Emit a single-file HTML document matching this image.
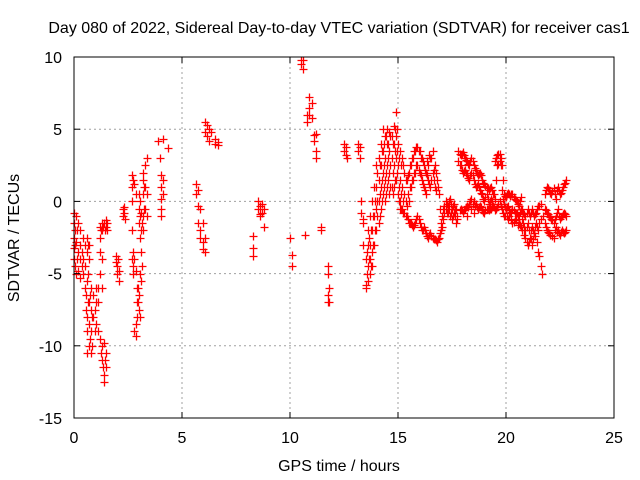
<!DOCTYPE html>
<html><head><meta charset="utf-8"><style>
body{margin:0;background:#fff}
svg{display:block;font-family:"Liberation Sans",sans-serif}
</style></head><body>
<svg id="chart" width="640" height="480">
<rect width="640" height="480" fill="#fff"/>
<text x="339" y="33" font-size="16" text-anchor="middle">Day 080 of 2022, Sidereal Day-to-day VTEC variation (SDTVAR) for receiver cas1</text>
<g id="grid"></g>
<g id="pts"></g>
<rect x="74" y="57" width="540" height="361" fill="none" stroke="#000"/>
<g id="ticks"></g>
<text x="339" y="471" font-size="16" text-anchor="middle">GPS time / hours</text>
<text transform="translate(19,238) rotate(-90)" font-size="16" text-anchor="middle">SDTVAR / TECUs</text>
</svg>
<script>
const xTicks=[0,5,10,15,20,25];
const yTicks=[10,5,0,-5,-10,-15];
const hours=[0,0.05,0.1,0.2,0.3,0.4,0.5,0.6,0.7,
0.55,0.6,0.7,0.8,0.9,1.0,1.1,
1.2,1.3,1.4,1.5,1.55,
1.95,2.0,2.05,2.1,2.25,2.3,2.35,
2.7,2.75,2.85,2.9,3.0,3.05,3.1,3.2,3.3,3.4,
3.9,4.1,4.0,4.05,4.1,4.35,
5.65,5.75,5.85,5.95,6.05,6.05,6.15,6.25,6.35,6.55,6.65,
8.3,8.5,8.6,8.7,8.8,
10.0,10.1,10.5,10.6,10.7,10.8,10.9,11.0,11.1,11.2,11.45,11.75,11.8,
12.5,12.6,12.65,13.15,13.25,13.3,13.4,13.5,13.6,13.7,13.8,13.9,14.0,14.1,14.2,14.3,14.4,14.5,14.6,14.7,14.8,14.9,
15.0,15.1,15.2,15.3,15.4,15.5,15.6,15.7,15.8,15.9,16.0,16.1,16.2,16.3,16.4,16.5,16.6,16.7,16.8,16.9,
17.0,17.1,17.2,17.3,17.4,17.5,17.6,17.7,17.8,17.9,18.0,18.1,18.2,18.3,18.4,18.5,18.6,18.7,18.8,18.9,
19.0,19.1,19.2,19.3,19.4,19.5,19.6,19.7,19.8,19.9,20.0,20.1,20.2,20.3,20.4,20.5,20.6,20.7,20.8,20.9,
21.0,21.1,21.2,21.3,21.4,21.5,21.6,21.65,21.7,21.8,21.9,22.0,22.1,22.2,22.3,22.4,22.5,22.6,22.7,22.8];
const values=[[-0.8,-1.5,-2.5,-3.2,-4],[-2,-3,-4.5],[-1,-2.8,-5],[-1.5,-3.5,-4.8],[-2,-3,-4,-5.3],[-2.5,-4,-5],[-3,-4.5,-6],[-2.5,-3.5,-5.5],[-3,-4],
[-6.5,-7.5],[-8,-9,-10.5],[-7,-8.5,-10],[-6,-7.5,-9,-10.5],[-6.5,-8],[-7,-8.5,-6],[-6,-7,-9],
[-1.8,-2.5,-3.5,-5,-9.5],[-1.5,-2,-4,-6,-10,-11],[-1.5,-9.8,-12,-12.5],[-1.3,-1.8,-10.5,-11.5],[-1.5,-2],
[-3.8,-4.2],[-4.5,-5],[-4],[-4.8,-5.5],[-0.5,-1],[-0.8,-0.4],[-1.2],
[1.8,1,0,-2,-4],[1.5,-3.5,-4.5,-5],[0.5,-4.8,-8.5,-9.3],[-6,-7,-8],[0.5,-0.5,-1.5,-6.5,-7.5],[0,-1,-2.5,-5,-8],[-0.8,-2,-3.5,-5.5],[2,1.5,0.5,-1,-2],[2.5,1,-0.5],[3,0.5,-1],
[4.2],[4.3],[3],[1.8,1,0.2,-0.5,-1],[1.5,0.5],[3.7],
[1.2,0.5],[0.8,-0.3,-1.5],[-0.5,-2,-2.5],[-1.5,-2.8,-3.3],[-2.5,-3.5],[5.5,4.8],[5.3,4.5],[5,4.2],[4.8],[4.3,4],[4.1,3.9],
[-2.4,-3.2,-3.8],[0,-0.5],[-0.3,-0.9,-1],[-0.2,-0.8],[-0.5,-1.8],
[-2.5],[-3.7,-4.5],[9.8,9.5],[9.8,9.2],[-2.3],[6,5.5],[7.2,6.5,6],[6.8,5.8],[4.6,4.2],[4.7,3.5,3],[-1.8,-2],[-4.5,-5,-6.5,-7],[-6,-7],
[4,3.5],[3.8,3.2],[3],[4,3.5],[3.8,3],[0,-0.8],[-1.2,-1.5,-3],[-4,-5.8,-6],[-3,-5.5,-4.5,-2],[-1,-3,-4,-5],[0,-2,-3.5,-4.5],[1,-1,-3],[2.5,1,-0.5,-2],[3,1.5,0,-1.5],[4,2.5,1,-0.5],[5,3.5,2,0.5],[4.5,3,1.5,0],[5,4,2.5,1],[4.8,3.5,2,0.5],[4.5,3,1],[5.2,4,2.5,1],[6.2,4.5,3,1.5],
[4,2.5,0.5],[3.5,1.5,0,-0.5],[3,1,-0.5],[2,0.5,-0.8],[1.5,-0.3,-1],[2,0,-1.5],[2.5,1,-1.5],[3,1.5,-1.8],[3.5,2,-1.5],[3.8,2.5,-1],[3.5,2,-1.5],[3,1.5,-2],[2.5,1,-1.8],[2,0.5,-2.2],[1.5,2.5,-2.5],[1,3,-2.2],[2,3.5,-2.5],[2.5,1,-2.6],[1.5,-2.8],[0.5,-2.5],
[-1.5,-2],[-0.5,-1.2],[-0.5,0],[-0.8,-0.3],[-1,0.2],[-0.5,-1.2],[-0.2,-0.8],[-0.5,-1.5],[3.5,2.8],[3.2,2.5,-0.5],[3.4,2,-0.8],[3,2.2,-0.5],[2.8,1.8,-0.3,-1],[2.5,1.5,-0.2],[3,2,0.2,-0.5],[2.5,1.5,0,-0.8],[2.2,1,-0.2],[1.8,1.2,-0.5],[2,0.8,-0.3],[1.5,0.5,-0.6],
[1.2,0,-0.8],[1,0.5,-0.5],[0.8,-0.2,-0.6],[1,0.2,-0.5],[0.5,-0.3],[2.8,0.2,-0.6],[3.2,2.5,-0.4],[3.3,2.8,0],[2.5,0.8,-0.5],[0.5,-0.2,-1],[0.3,-0.5],[0.6,-0.3,-1.2],[0.4,-0.8],[0.5,-0.5,-1.5],[0.2,-0.8,-1.2],[0,-0.8],[-0.3,-1,-1.5],[0.3,-0.5,-1.8],[-0.8,-1.5],[-1,-2,-2.5],
[-0.5,-1.5,-3],[-1,-2.5],[-0.5,-1.8,-3],[-1,-2.2],[-0.8,-1.5],[-0.3,-2,-3.5],[-0.2,-1.2,-4.5],[-5],[-1],[0.5,-0.5,-1.5],[1,-0.8,-2],[0.8,-1,-2.2],[0.5,-1.2],[0.9,-1.5,-2.5],[0.2,-1,-1.8],[1,-0.5,-2],[0.5,-1.2,-2.3],[0.8,-1,-2],[1.2,-0.8,-2.2],[1.5,-1,-2]];
// additional readings filling the dense bands
const hours2=[0.15,0.35,0.65,0.75,0.85,0.95,1.25,1.35,1.45,2.8,2.95,3.15,3.25,13.55,13.65,13.75,13.85,13.95,14.05,14.15,14.25,14.35,14.45,14.55,14.65,14.75,14.85,14.95,
15.05,15.15,15.25,15.35,15.45,15.55,15.65,15.75,15.85,15.95,16.05,16.15,16.25,16.35,16.45,16.55,16.65,16.75,16.85,16.95,
17.05,17.15,17.25,17.35,17.45,17.55,17.65,17.75,17.85,17.95,18.05,18.15,18.25,18.35,18.45,18.55,18.65,18.75,18.85,18.95,
19.05,19.15,19.25,19.35,19.45,19.55,19.65,19.75,19.85,19.95,20.05,20.15,20.25,20.35,20.45,20.55,20.65,20.75,20.85,20.95,
21.05,21.15,21.25,21.35,21.45,21.55,21.85,21.95,22.05,22.15,22.25,22.35,22.45,22.55,22.65,22.75];
const values2=[[-2,-4],[-3.5,-4.5],[-3,-5,-7],[-6.5,-9.5],[-8,-10],[-7.5,-9],[-2,-10.5],[-1.8,-11.5],[-2,-11],[1.2,-4,-9],[-6,-7],[-1.5,-4.5],[1,-0.5],
[-5,-3.5],[-4,-2.5],[-2,-4.5],[-1,-3],[0,-2],[2,0,-1],[2.5,0.5,-1],[3.5,1.5,0],[4,2.5,1],[4.5,2,0.5],[4,3,1.5],[4.5,2.5,1],[4,2,0.5],[5,3.5,1.5],[5,3.5,2],
[3,1,0],[2.5,0.5,-0.5],[2.5,0,-0.8],[1.5,0,-1],[1.8,0.5,-1.2],[2.5,1,-1.5],[3,1.5,-1.6],[3.5,2,-1.6],[3.8,2.5,-1.2],[3.5,2.2,-1.2],[3,1.8,-1.8],[2.8,1.2,-2],[2.2,0.8,-2],[1.8,2.8,-2.4],[1.2,3.2,-2.3],[1.5,3,-2.4],[2.2,1.5,-2.6],[2,0.8,-2.7],[1,-2.6],[-0.5,-2.2],
[-1,-1.8],[-0.3,-0.8],[-0.8,-0.2],[-0.5,0],[-0.8,-0.2],[-0.3,-1],[-0.5,-1],[-1,-1.2],[3.3,2.5,-0.6],[3.3,2.2,-0.6],[3.2,2.1,-0.6],[2.9,2,-0.4],[2.6,1.6,-0.4],[2.8,1.8,0],[2.8,1.8,-0.2],[2.3,1.2,-0.3],[2,1.1,-0.4],[1.9,1,-0.4],[1.8,0.6,-0.4],[1.3,0.2,-0.7],
[1.1,0.3,-0.6],[0.9,0.2,-0.5],[0.9,0,-0.5],[0.8,0,-0.4],[0.5,-0.4],[3,1.5,-0.5],[3.3,2.6,-0.2],[3,2.5,-0.3],[1.5,0.2,-0.8],[0.4,-0.4,-1],[0.5,-0.4,-1],[0.5,-0.6,-1],[0.5,-0.7,-1.3],[0.3,-0.6,-1.4],[0.1,-0.8,-1.3],[-0.2,-1,-1.6],[0,-0.7,-1.6],[-0.5,-1.2,-2],[-0.9,-1.8,-2.3],[-0.8,-1.8,-2.8],
[-0.8,-2,-2.8],[-0.8,-2,-2.6],[-0.8,-2,-2.6],[-0.9,-1.8,-2.4],[-0.5,-1.8,-2.8],[-0.3,-1.5,-3.8],[0.8,-0.6,-1.8],[0.9,-0.9,-2.1],[0.6,-1.1,-2.3],[0.7,-1.3,-2.4],[0.5,-1.2,-2],[0.8,-0.8,-2.1],[0.7,-1,-2.2],[0.6,-1.1,-2.1],[1,-0.9,-2.1],[1.3,-0.9,-2.1]];
const NS="http://www.w3.org/2000/svg";
const X0=74,X1=614,Y0=57,Y1=418;
function sx(h){return X0+(h-0)/25*(X1-X0);}
function sy(v){return Y0+(10-v)/25*(Y1-Y0);}
const grid=document.getElementById('grid'),ticks=document.getElementById('ticks'),pts=document.getElementById('pts');
function mk(t,a,p){const e=document.createElementNS(NS,t);for(const k in a)e.setAttribute(k,a[k]);p.appendChild(e);return e;}
xTicks.forEach(t=>{const x=sx(t);
 if(t>0&&t<25){const l=mk('line',{x1:x,x2:x,y1:Y0,y2:Y1,stroke:'#a0a0a0','stroke-dasharray':'2,3'},grid);
 
 }
 mk('line',{x1:x,x2:x,y1:Y1,y2:Y1-6,stroke:'#000'},ticks);
 mk('line',{x1:x,x2:x,y1:Y0,y2:Y0+6,stroke:'#000'},ticks);
 const tx=mk('text',{x:x,y:Y1+25,'font-size':'16','text-anchor':'middle'},ticks);tx.textContent=t;
 
 
});
yTicks.forEach(t=>{const y=sy(t);
 if(t<10&&t>-15){const l=mk('line',{x1:X0,x2:X1,y1:y,y2:y,stroke:'#a0a0a0','stroke-dasharray':'2,3'},grid);
 
 }
 mk('line',{x1:X0,x2:X0+6,y1:y,y2:y,stroke:'#000'},ticks);
 mk('line',{x1:X1,x2:X1-6,y1:y,y2:y,stroke:'#000'},ticks);
 const tx=mk('text',{x:X0-12,y:y+6,'font-size':'16','text-anchor':'end'},ticks);tx.textContent=t;
 
 
});
let d='';
function addSeries(hs,vs){hs.forEach((h,i)=>{vs[i].forEach(v=>{const x=Math.round(sx(h))+0.5,y=Math.round(sy(v))+0.5;
 d+=`M${x-4},${y}h8M${x},${y-4}v8`;});});}
addSeries(hours,values);
addSeries(hours2,values2);
const p=mk('path',{d:d,stroke:'#ff0000','stroke-width':'1.3',fill:'none'},pts);


</script>
</body></html>
